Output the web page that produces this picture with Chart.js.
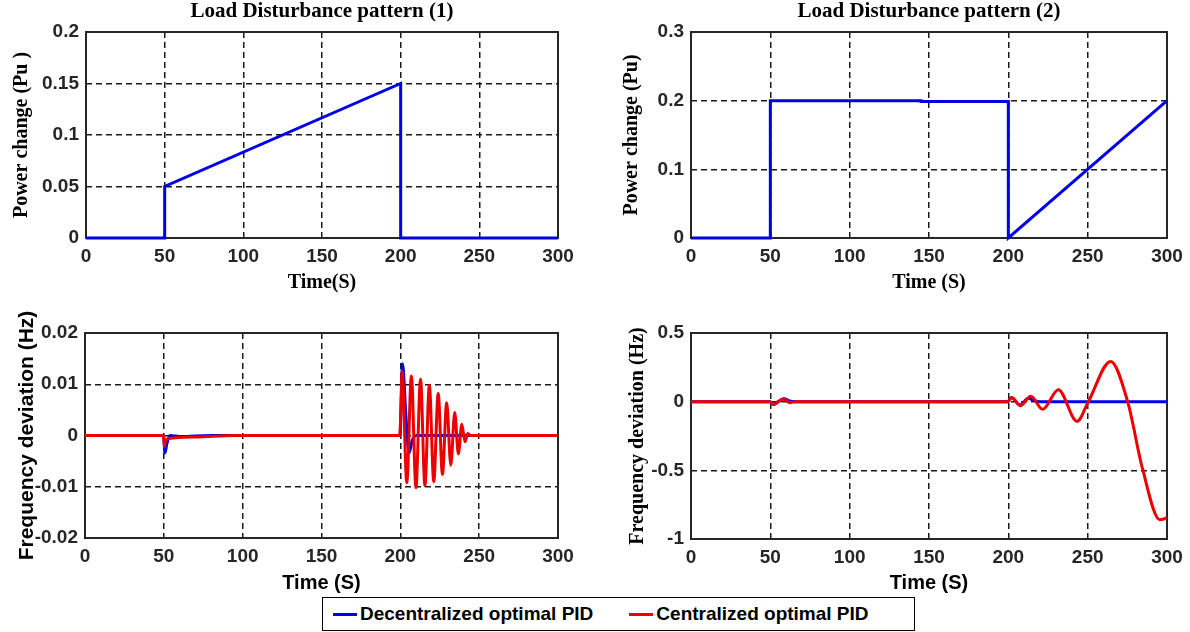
<!DOCTYPE html>
<html>
<head>
<meta charset="utf-8">
<script src="https://cdn.jsdelivr.net/npm/chart.js@4.4.1/dist/chart.umd.min.js"></script>
<style>
  body { margin: 0; background: #fff; width: 1190px; height: 632px; overflow: hidden; position: relative; }
  canvas { position: absolute; }
  .leyenda { position: absolute; left: 322px; top: 597px; width: 591px; height: 32px; border: 1.5px solid #000;
    font: bold 19px "Liberation Sans", Arial, sans-serif; color: #000; display: flex; align-items: center; }
  .item { display: flex; align-items: center; }
  .raya { width: 24px; height: 3px; margin: 0 3px 0 10px; }
</style>
</head>
<body>
<canvas id="tl" width="595" height="300" style="left:0;top:0"></canvas>
<canvas id="tr" width="595" height="300" style="left:595px;top:0"></canvas>
<canvas id="bl" width="595" height="295" style="left:0;top:300px"></canvas>
<canvas id="br" width="595" height="295" style="left:595px;top:300px"></canvas>
<div class="leyenda">
  <div class="item"><span class="raya" style="background:#0000e8"></span>Decentralized optimal PID</div>
  <div class="item" style="margin-left:26px"><span class="raya" style="background:#ee0000"></span>Centralized optimal PID</div>
</div>
<script>
// datos
const xTicks = [0, 50, 100, 150, 200, 250, 300]
const p1YTicks = [0, 0.05, 0.1, 0.15, 0.2]
const p2YTicks = [0, 0.1, 0.2, 0.3]
const f1YTicks = [-0.02, -0.01, 0, 0.01, 0.02]
const f2YTicks = [-1, -0.5, 0, 0.5]

// patron de carga 1
const p1Time = [0, 50, 50, 200, 200, 300]
const p1Power = [0, 0, 0.05, 0.15, 0, 0]

// patron de carga 2
const p2Time = [0, 50, 50, 145, 145, 200, 200, 300]
const p2Power = [0, 0, 0.2, 0.2, 0.1988, 0.1988, 0, 0.2]

// desviacion de frecuencia, patron 1
const f1DecTime = [0, 49.8, 50.7, 52, 53.9, 60, 80, 199.8, 201.4, 203.5, 205.5, 207.5, 210, 300]
const f1DecVal = [0, 0, -0.0034, -0.0015, 0, -0.0002, 0, 0, 0.014, 0.004, -0.0034, -0.001, 0, 0]
const f1CenTime = [0, 49.9, 50.3, 51, 53, 70, 95, 199.6, 201.2, 204.1, 207, 209.9, 212.8, 215.6, 218.4,
  221.2, 224, 226.7, 229.4, 232, 234.5, 236.8, 239, 241, 242.8, 244.5, 300]
const f1CenVal = [0, 0, -0.0022, -0.0012, -0.0006, -0.0003, 0, 0, 0.0125, -0.0092, 0.0116, -0.0102, 0.011,
  -0.0098, 0.0098, -0.009, 0.0082, -0.0076, 0.0064, -0.0058, 0.0045, -0.0036, 0.0022, -0.0012, 0.0004, 0, 0]

// desviacion de frecuencia, patron 2
const f2DecTime = [0, 49.8, 52, 55, 58.5, 62, 66, 199.7, 202, 207.5, 212.5, 216, 220, 300]
const f2DecVal = [0, 0, -0.02, 0, 0.022, 0.005, 0, 0, 0.03, -0.025, 0.025, 0.01, 0, 0]
const f2CenTime = [0, 49.8, 51.9, 55, 58.2, 62.4, 65.5, 199.7, 202, 207.7, 214.2, 221.6, 231.5, 243.3,
  250.4, 264.5, 275.2, 284.6, 295.5, 300]
const f2CenVal = [0, 0, -0.022, 0, 0.02, -0.007, 0, 0, 0.03, -0.03, 0.04, -0.056, 0.087, -0.143,
  0, 0.293, 0, -0.49, -0.86, -0.845]

const azul = '#0000e8'
const rojo = '#ee0000'
const serif = '"Liberation Serif", "Times New Roman", serif'
const sans = '"Liberation Sans", Arial, sans-serif'

function puntos(t, v) {
  return t.map((x, i) => ({ x: x, y: v[i] }))
}

const marco = {
  id: 'marco',
  beforeDatasetsDraw(chart) {
    const a = chart.chartArea
    const ctx = chart.ctx
    ctx.save()
    ctx.strokeStyle = '#262626'
    ctx.lineWidth = 2
    ctx.strokeRect(a.left, a.top, a.right - a.left, a.bottom - a.top)
    ctx.restore()
  },
  afterDraw(chart, args, opts) {
    if (!opts.text) return
    const a = chart.chartArea
    const ctx = chart.ctx
    ctx.save()
    ctx.font = 'bold 21px ' + serif
    ctx.fillStyle = '#000'
    ctx.textAlign = 'center'
    ctx.textBaseline = 'middle'
    ctx.fillText(opts.text, (a.left + a.right) / 2, 12)
    ctx.restore()
  }
}

function panel(id, cfg) {
  const canvas = document.getElementById(id)
  const H = canvas.height
  const W = canvas.width
  const eje = (ticks, extra) => Object.assign({
    type: 'linear',
    min: ticks[0],
    max: ticks[ticks.length - 1],
    afterBuildTicks: s => { s.ticks = ticks.map(v => ({ value: v })) },
    ticks: { font: { family: sans, size: 19, weight: 'bold' }, color: '#262626', padding: 7,
      autoSkip: false, maxRotation: 0, callback: v => String(v) },
    grid: { color: '#1a1a1a', lineWidth: 1.5, drawTicks: false, borderDash: [6, 4] },
    border: { display: false, dash: [6, 4] }
  }, extra)

  return new Chart(canvas, {
    type: 'line',
    data: { datasets: cfg.datasets },
    plugins: [marco],
    options: {
      responsive: false,
      animation: false,
      layout: { padding: { left: 0, top: cfg.top, right: W - cfg.right, bottom: 0 } },
      plugins: { legend: { display: false }, tooltip: { enabled: false }, marco: { text: cfg.title } },
      scales: {
        x: eje(xTicks, {
          afterFit: s => { s.height = H - cfg.bottom },
          title: { display: true, text: cfg.xTitle, color: '#000',
            font: { family: cfg.xFont, size: 20, weight: 'bold' }, padding: { top: 0, bottom: cfg.xPad } }
        }),
        y: eje(cfg.yTicks, {
          afterFit: s => { s.width = cfg.left },
          title: { display: true, text: cfg.yTitle, color: '#000',
            font: { family: cfg.yFont, size: cfg.ySize, weight: 'bold' }, padding: { top: cfg.yPad, bottom: 0 } }
        })
      }
    }
  })
}

function serie(t, v, color, orden, suave) {
  return {
    data: puntos(t, v),
    borderColor: color,
    borderWidth: 3,
    pointRadius: 0,
    clip: false,
    order: orden,
    cubicInterpolationMode: suave ? 'monotone' : 'default',
    tension: 0
  }
}

panel('tl', {
  title: 'Load Disturbance pattern (1)',
  left: 86, right: 558, top: 32, bottom: 238,
  yTicks: p1YTicks, yTitle: 'Power change (Pu )', yFont: serif, ySize: 20, yPad: 10,
  xTitle: 'Time(S)', xFont: serif, xPad: 5,
  datasets: [serie(p1Time, p1Power, azul, 0, false)]
})

panel('tr', {
  title: 'Load Disturbance pattern (2)',
  left: 96, right: 572, top: 32, bottom: 238,
  yTicks: p2YTicks, yTitle: 'Power change (Pu)', yFont: serif, ySize: 20, yPad: 25,
  xTitle: 'Time (S)', xFont: serif, xPad: 5,
  datasets: [serie(p2Time, p2Power, azul, 0, false)]
})

panel('bl', {
  title: '',
  left: 85, right: 558, top: 33, bottom: 238,
  yTicks: f1YTicks, yTitle: 'Frequency deviation (Hz)', yFont: sans, ySize: 21, yPad: 15,
  xTitle: 'Time (S)', xFont: sans, xPad: 0,
  datasets: [serie(f1DecTime, f1DecVal, azul, 1, true), serie(f1CenTime, f1CenVal, rojo, 0, true)]
})

panel('br', {
  title: '',
  left: 96, right: 572, top: 33, bottom: 239,
  yTicks: f2YTicks, yTitle: 'Frequency deviation (Hz)', yFont: serif, ySize: 20, yPad: 31,
  xTitle: 'Time (S)', xFont: sans, xPad: 0,
  datasets: [serie(f2DecTime, f2DecVal, azul, 1, true), serie(f2CenTime, f2CenVal, rojo, 0, true)]
})
</script>
</body>
</html>
